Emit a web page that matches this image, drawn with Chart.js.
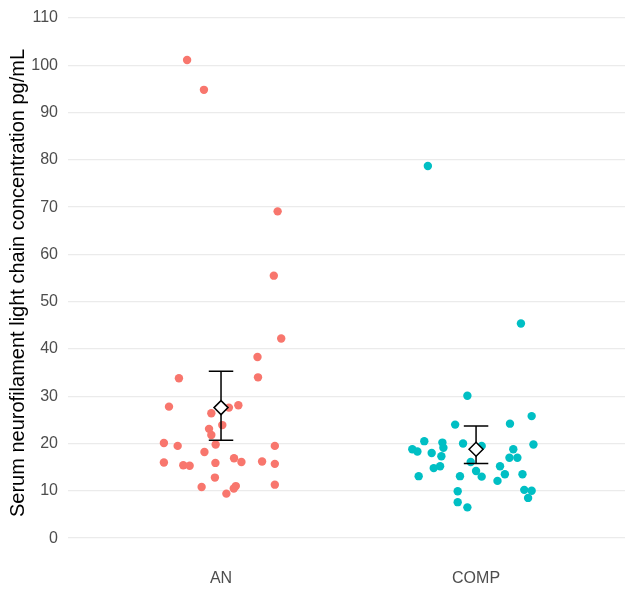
<!DOCTYPE html>
<html>
<head>
<meta charset="utf-8">
<script src="https://cdn.jsdelivr.net/npm/chart.js@4.4.1/dist/chart.umd.min.js"></script>
<style>
  html, body { margin: 0; padding: 0; background: #ffffff; }
  #wrap { width: 625px; height: 589px; }
</style>
</head>
<body>
<div id="wrap"><canvas id="c" width="625" height="589"></canvas></div>
<script>
// ---- Data ----
const categories = ["AN", "COMP"];
const yTicks = [0, 10, 20, 30, 40, 50, 60, 70, 80, 90, 100, 110];

// AN group: values (pg/mL) and horizontal jitter offsets (category units)
const anValues = [101.1, 94.8, 69.1, 55.5, 42.2, 38.3, 33.8, 34.0, 27.8, 28.1, 27.6, 26.4,
  23.9, 23.1, 21.8, 19.8, 20.1, 19.5, 19.5, 18.2, 16.0, 15.4, 15.3, 15.9, 16.9, 16.1,
  16.2, 15.7, 12.8, 10.8, 11.0, 10.5, 9.4, 11.3];
const anJitter = [-0.133, -0.067, 0.222, 0.207, 0.236, 0.143, -0.165, 0.145, -0.204, 0.068, 0.031, -0.038,
  0.005, -0.047, -0.038, -0.021, -0.224, -0.170, 0.211, -0.065, -0.224, -0.148, -0.123, -0.022, 0.051, 0.080,
  0.161, 0.211, -0.024, -0.076, 0.058, 0.050, 0.021, 0.211];

// COMP group
const compValues = [78.7, 45.4, 30.1, 24.0, 24.2, 25.8, 19.8, 20.5, 18.8, 18.3, 18.0, 20.2,
  19.1, 17.3, 20.0, 19.5, 16.1, 14.8, 15.2, 13.1, 13.1, 14.2, 13.0, 15.2, 13.5, 12.1,
  18.8, 17.0, 17.0, 13.5, 10.2, 10.0, 8.5, 9.9, 7.6, 6.5];
const compJitter = [-0.189, 0.176, -0.034, -0.082, 0.133, 0.218, 0.225, -0.203, -0.250, -0.230, -0.174, -0.132,
  -0.128, -0.136, -0.051, 0.022, -0.021, -0.166, -0.141, -0.225, -0.063, 0.000, 0.022, 0.094, 0.113, 0.084,
  0.146, 0.131, 0.162, 0.182, 0.189, 0.218, 0.204, -0.072, -0.072, -0.034];

// summary: mean and interval
const groupMeans = [27.6, 18.8];
const groupLower = [20.7, 15.8];
const groupUpper = [35.3, 23.7];

// ---- Styling ----
const colors = ["#F8766D", "#00BFC4"];
const capHalf = 0.048;   // half cap width in category units
const FONT = "'Liberation Sans', Arial, Helvetica, sans-serif";

function toPoints(vals, jit, pos) {
  return vals.map((v, i) => ({ x: pos + jit[i], y: v }));
}
function errorBar(pos, lo, hi) {
  return [
    { x: pos - capHalf, y: hi }, { x: pos + capHalf, y: hi }, { x: pos, y: null },
    { x: pos, y: hi }, { x: pos, y: lo }, { x: pos + capHalf, y: null },
    { x: pos - capHalf, y: lo }, { x: pos + capHalf, y: lo }
  ];
}

const datasets = [
  { label: categories[0], data: toPoints(anValues, anJitter, 1), backgroundColor: colors[0],
    borderWidth: 0, pointRadius: 4.2, order: 3 },
  { label: categories[1], data: toPoints(compValues, compJitter, 2), backgroundColor: colors[1],
    borderWidth: 0, pointRadius: 4.2, order: 3 },
  { label: "eb1", data: errorBar(1, groupLower[0], groupUpper[0]), showLine: true, spanGaps: false,
    borderColor: "#000000", borderWidth: 1.5, pointRadius: 0, order: 2 },
  { label: "eb2", data: errorBar(2, groupLower[1], groupUpper[1]), showLine: true, spanGaps: false,
    borderColor: "#000000", borderWidth: 1.5, pointRadius: 0, order: 2 },
  { label: "mean", data: groupMeans.map((m, i) => ({ x: i + 1, y: m })), pointStyle: "rectRot",
    pointRadius: 7, backgroundColor: "#ffffff", borderColor: "#000000", borderWidth: 1.5, order: 1 }
];

new Chart(document.getElementById("c"), {
  type: "scatter",
  data: { datasets },
  options: {
    responsive: false,
    devicePixelRatio: 1,
    animation: false,
    layout: { padding: 0, autoPadding: false },
    plugins: { legend: { display: false }, tooltip: { enabled: false } },
    scales: {
      x: {
        type: "linear",
        min: 0.4,
        max: 2.584,
        afterBuildTicks: (s) => { s.ticks = categories.map((c, i) => ({ value: i + 1 })); },
        ticks: {
          callback: (v) => categories[Math.round(v) - 1] || "",
          color: "#4d4d4d",
          font: { family: FONT, size: 16 },
          padding: 3,
          maxRotation: 0
        },
        grid: { display: false, drawTicks: false },
        border: { display: false },
        afterFit: (s) => { s.height = 23; s.paddingLeft = 0; s.paddingRight = 0; }
      },
      y: {
        type: "linear",
        min: -5.9,
        max: 113.8,
        afterBuildTicks: (s) => { s.ticks = yTicks.map(v => ({ value: v })); },
        ticks: {
          color: "#4d4d4d",
          font: { family: FONT, size: 16 },
          padding: 10
        },
        grid: { color: "#ebebeb", lineWidth: 1.3, drawTicks: false },
        border: { display: false },
        title: {
          display: true,
          text: "Serum neurofilament light chain concentration pg/mL",
          color: "#000000",
          font: { family: FONT, size: 20 },
          padding: { top: 6, bottom: 0 }
        },
        afterFit: (s) => { s.width = 68; s.paddingTop = 0; s.paddingBottom = 0; }
      }
    }
  }
});
</script>
</body>
</html>
